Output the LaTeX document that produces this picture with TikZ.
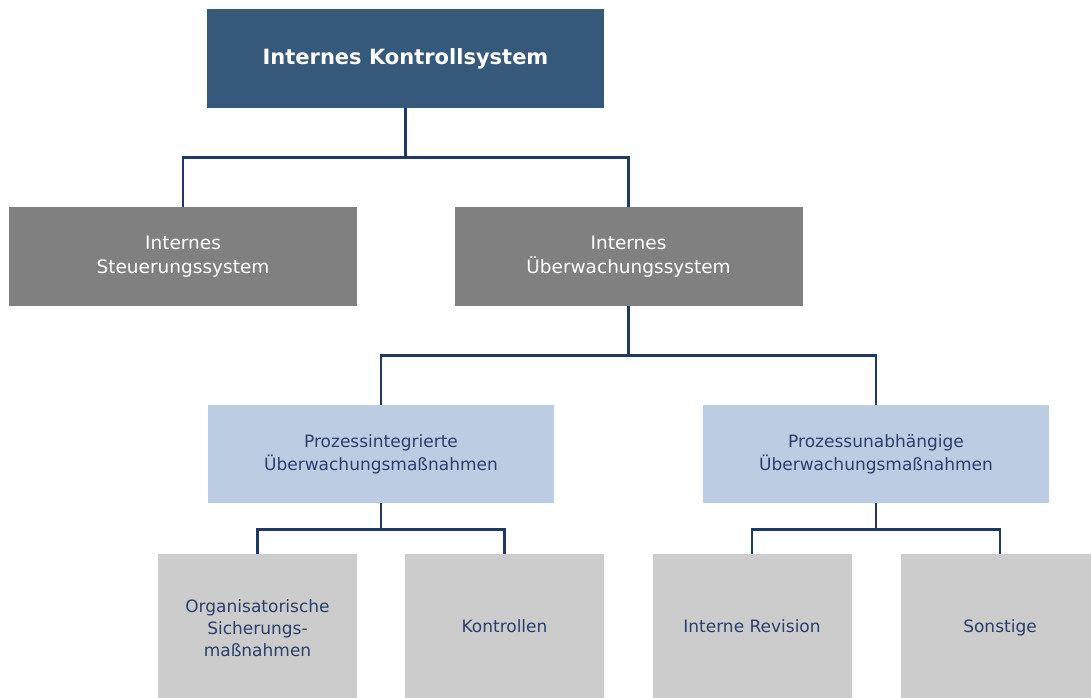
\documentclass[tikz,border=0pt]{standalone}
\usepackage{fontspec}
\setmainfont{DejaVu Sans}
\usepackage{tikz}
\usetikzlibrary{positioning}

\definecolor{ikblau}{HTML}{36587A}
\definecolor{ikgrau}{HTML}{808080}
\definecolor{ikhell}{HTML}{BCCCE2}
\definecolor{iksilber}{HTML}{CCCCCC}
\definecolor{ikschrift}{HTML}{2B3F6B}
\definecolor{iklinie}{HTML}{1F3864}

\begin{document}
\begin{tikzpicture}[x = 1pt, y = -1pt, node distance = 49pt,
	kopf/.style   = {fill = ikblau, text = white, align = center, inner sep = 0pt,
	                 minimum width = 397pt, minimum height = 99pt,
	                 font = \fontsize{21}{26}\selectfont\bfseries},
	grau/.style   = {fill = ikgrau, text = white, align = center, inner sep = 0pt,
	                 minimum width = 348pt, minimum height = 99pt,
	                 font = \fontsize{18.5}{24}\selectfont},
	hell/.style   = {fill = ikhell, text = ikschrift, align = center, inner sep = 0pt,
	                 minimum width = 346pt, minimum height = 98pt,
	                 font = \fontsize{17}{23}\selectfont},
	blatt/.style  = {fill = iksilber, text = ikschrift, align = center, inner sep = 0pt,
	                 minimum width = 199pt, minimum height = 148pt,
	                 font = \fontsize{17}{22}\selectfont},
	linie/.style  = {draw = iklinie, line width = 2.8pt}]

\useasboundingbox (0,0) rectangle (1091,697);

\node[kopf]		(iks)	at (405.5,58.5)		{Internes Kontrollsystem};
\node[grau]		(iss)	at (183,256.5)		{Internes\\Steuerungssystem};
\node[grau]		(ius)	at (628.5,256.5)	{Internes\\Überwachungssystem};
\node[hell]		(pim)	at (381,454)		{Prozessintegrierte\\Überwachungsmaßnahmen};
\node[hell]		(pum)	at (876,454)		{Prozessunabhängige\\Überwachungsmaßnahmen};
\node[blatt]	(osm)	at (257.5,628)		{Organisatorische\\Sicherungs-\\maßnahmen};
\node[blatt]	(kon)	at (504.5,628)		{\strut Kontrollen};
\node[blatt]	(rev)	at (752,628)		{\strut Interne Revision};
\node[blatt]	(son)	at (1000,628)		{\strut Sonstige};

% Verbindungen
\path[linie]	(iks.south)	-- ++(0,49)	-| (iss.north);
\path[linie]	(iks.south)	-- ++(0,49)	-| (ius.north);
\path[linie]	(ius.south)	-- ++(0,49)	-| (pim.north);
\path[linie]	(ius.south)	-- ++(0,49)	-| (pum.north);
\path[linie]	(pim.south)	-- ++(0,26)	-| (osm.north);
\path[linie]	(pim.south)	-- ++(0,26)	-| (kon.north);
\path[linie]	(pum.south)	-- ++(0,26)	-| (rev.north);
\path[linie]	(pum.south)	-- ++(0,26)	-| (son.north);

\end{tikzpicture}
\end{document}
